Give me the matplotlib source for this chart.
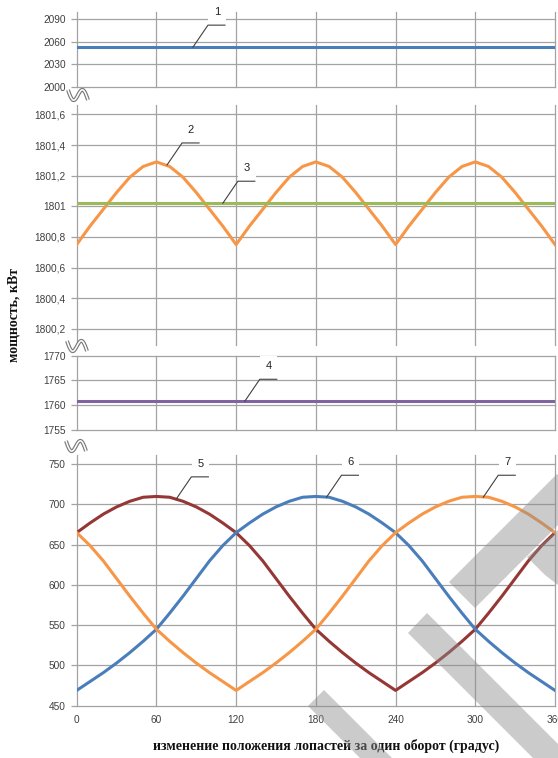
import matplotlib
matplotlib.use("Agg")
import matplotlib.pyplot as plt
import numpy as np
from matplotlib.transforms import IdentityTransform
from matplotlib.lines import Line2D
from matplotlib.patches import Polygon

# --- data ---
angles = [0, 10, 20, 30, 40, 50, 60, 70, 80, 90, 100, 110, 120, 130, 140, 150, 160, 170, 180,
          190, 200, 210, 220, 230, 240, 250, 260, 270, 280, 290, 300, 310, 320, 330, 340, 350, 360]
x_ticks = [0, 60, 120, 180, 240, 300, 360]
x_labels = ["0", "60", "120", "180", "240", "300", "360"]

p1 = 2053.0     # line 1
p3 = 1801.02    # line 3
p4 = 1760.8     # line 4

p2 = [1800.75, 1800.87, 1800.98, 1801.09, 1801.19, 1801.26, 1801.29, 1801.26, 1801.19, 1801.09,
      1800.98, 1800.87, 1800.75, 1800.87, 1800.98, 1801.09, 1801.19, 1801.26, 1801.29, 1801.26,
      1801.19, 1801.09, 1800.98, 1800.87, 1800.75, 1800.87, 1800.98, 1801.09, 1801.19, 1801.26,
      1801.29, 1801.26, 1801.19, 1801.09, 1800.98, 1800.87, 1800.75]
p5 = [665, 677, 688, 697, 704, 709, 710, 709, 704, 697, 688, 677, 665, 649, 630, 608, 586, 565, 545,
      530, 516, 503, 491, 480, 469, 480, 491, 503, 516, 530, 545, 565, 586, 608, 630, 649, 665]
p6 = [469, 480, 491, 503, 516, 530, 545, 565, 586, 608, 630, 649, 665, 677, 688, 697, 704, 709, 710,
      709, 704, 697, 688, 677, 665, 649, 630, 608, 586, 565, 545, 530, 516, 503, 491, 480, 469]
p7 = [665, 649, 630, 608, 586, 565, 545, 530, 516, 503, 491, 480, 469, 480, 491, 503, 516, 530, 545,
      565, 586, 608, 630, 649, 665, 677, 688, 697, 704, 709, 710, 709, 704, 697, 688, 677, 665]

ticks1 = [2000, 2030, 2060, 2090]
labels1 = ["2000", "2030", "2060", "2090"]
ticks2 = [1800.2, 1800.4, 1800.6, 1800.8, 1801.0, 1801.2, 1801.4, 1801.6]
labels2 = ["1800,2", "1800,4", "1800,6", "1800,8", "1801", "1801,2", "1801,4", "1801,6"]
ticks3 = [1755, 1760, 1765, 1770]
labels3 = ["1755", "1760", "1765", "1770"]
ticks4 = [450, 500, 550, 600, 650, 700, 750]
labels4 = ["450", "500", "550", "600", "650", "700", "750"]

blue = "#4A7EBB"
orange = "#F79646"
green = "#9BBB59"
purple = "#8064A2"
darkred = "#953735"
grid_c = "#a3a3a3"
txt_c = "#404040"

W, H = 558, 758
fig = plt.figure(figsize=(W / 100, H / 100), dpi=100)
fig.patch.set_facecolor("white")

def box(top, bottom):
    return [76.7 / W, 1 - bottom / H, (555 - 76.7) / W, (bottom - top) / H]

def setup(ax, ylim, ticks, labels, xlabels=False):
    ax.set_xlim(0, 360)
    ax.set_ylim(*ylim)
    ax.set_xticks(x_ticks)
    ax.set_yticks(ticks)
    ax.set_yticklabels(labels, fontfamily="Liberation Sans")
    for s in ax.spines.values():
        s.set_visible(False)
    ax.grid(True, color=grid_c, lw=0.9)
    ax.set_axisbelow(True)
    for gl in ax.get_xgridlines() + ax.get_ygridlines():
        gl.set_clip_on(False)
    ax.tick_params(axis="y", length=4.3, width=0.9, color=grid_c, pad=3.5,
                   labelsize=7.3, labelcolor=txt_c)
    ax.tick_params(axis="x", length=0, pad=7, labelsize=7.3, labelcolor=txt_c,
                   labelbottom=xlabels)
    if xlabels:
        ax.set_xticklabels(x_labels, fontfamily="Liberation Sans")

ax1 = fig.add_axes(box(11.8, 87))
ax2 = fig.add_axes(box(104.5, 344.8))
ax3 = fig.add_axes(box(355.7, 430))
ax4 = fig.add_axes(box(455.4, 705.7))

setup(ax1, (2000, 2100), ticks1, labels1)
setup(ax2, (1800.095, 1801.665), ticks2, labels2)
setup(ax3, (1755, 1770), ticks3, labels3)
setup(ax4, (450, 761), ticks4, labels4, xlabels=True)

lw = 2.2
ax1.axhline(p1, color=blue, lw=lw)
ax2.plot(angles, p2, color=orange, lw=lw, solid_joinstyle="round")
ax2.axhline(p3, color=green, lw=lw)
ax3.axhline(p4, color=purple, lw=lw)
ax4.plot(angles, p5, color=darkred, lw=lw, solid_joinstyle="round")
ax4.plot(angles, p6, color=blue, lw=lw, solid_joinstyle="round")
ax4.plot(angles, p7, color=orange, lw=lw, solid_joinstyle="round")

# leader lines with numbers (offsets in pixels)
def leader(ax, x, y, label):
    px, py = ax.transData.transform((x, y))
    fig.add_artist(Line2D([px, px + 15, px + 32], [py, py + 22, py + 22],
                          transform=IdentityTransform(), color=txt_c, lw=0.8))
    fig.text(px + 24, py + 35, label, transform=IdentityTransform(), ha="center", va="center",
             fontsize=8, color="#222222", fontfamily="Liberation Sans",
             bbox=dict(boxstyle="square,pad=0.5", fc="white", ec="none"))

leader(ax1, 87.5, p1, "1")
leader(ax2, 68, 1801.27, "2")
leader(ax2, 110, p3, "3")
leader(ax3, 126.5, p4, "4")
leader(ax4, 75, 707, "5")
leader(ax4, 188, 709, "6")
leader(ax4, 306, 709, "7")

# axis break marks
def brk(cx, cy):
    u = np.linspace(0, 1, 60)
    xs = cx - 10 + 20 * u
    ys = (H - cy) - (10 * u + 7.5 * np.sin(2 * np.pi * u) - 5)
    for c, w in (("#7a7a7a", 2.8), ("white", 1.1)):
        fig.add_artist(Line2D(xs, ys, transform=IdentityTransform(), color=c, lw=w,
                              solid_capstyle="butt", zorder=10))

brk(78, 95)
brk(77, 346)
brk(76, 446)

# labels
fig.text(14 / W, 1 - 315 / H, "мощность, кВт", rotation=90, ha="center", va="center",
         fontsize=10, fontweight="bold", fontfamily="Liberation Serif", color="#111111")
fig.text(326 / W, 1 - 746 / H, "изменение положения лопастей за один оборот (градус)",
         ha="center", va="center", fontsize=10, fontweight="bold",
         fontfamily="Liberation Serif", color="#111111")

# faint watermark shapes in the lower right
def wm(pts):
    fig.add_artist(Polygon([(x / W, 1 - y / H) for x, y in pts], closed=True,
                           transform=fig.transFigure, fc="#8c8c8c", ec="none",
                           alpha=0.45, zorder=20))

wm([(449, 582), (557, 474), (583, 500), (475, 608)])
wm([(527, 557), (558, 530), (558, 585), (545, 575)])
wm([(408, 633), (427, 613), (580, 766), (541, 766)])
wm([(308, 706), (324, 690), (400, 766), (368, 766)])

fig.savefig("out.png", dpi=100)
